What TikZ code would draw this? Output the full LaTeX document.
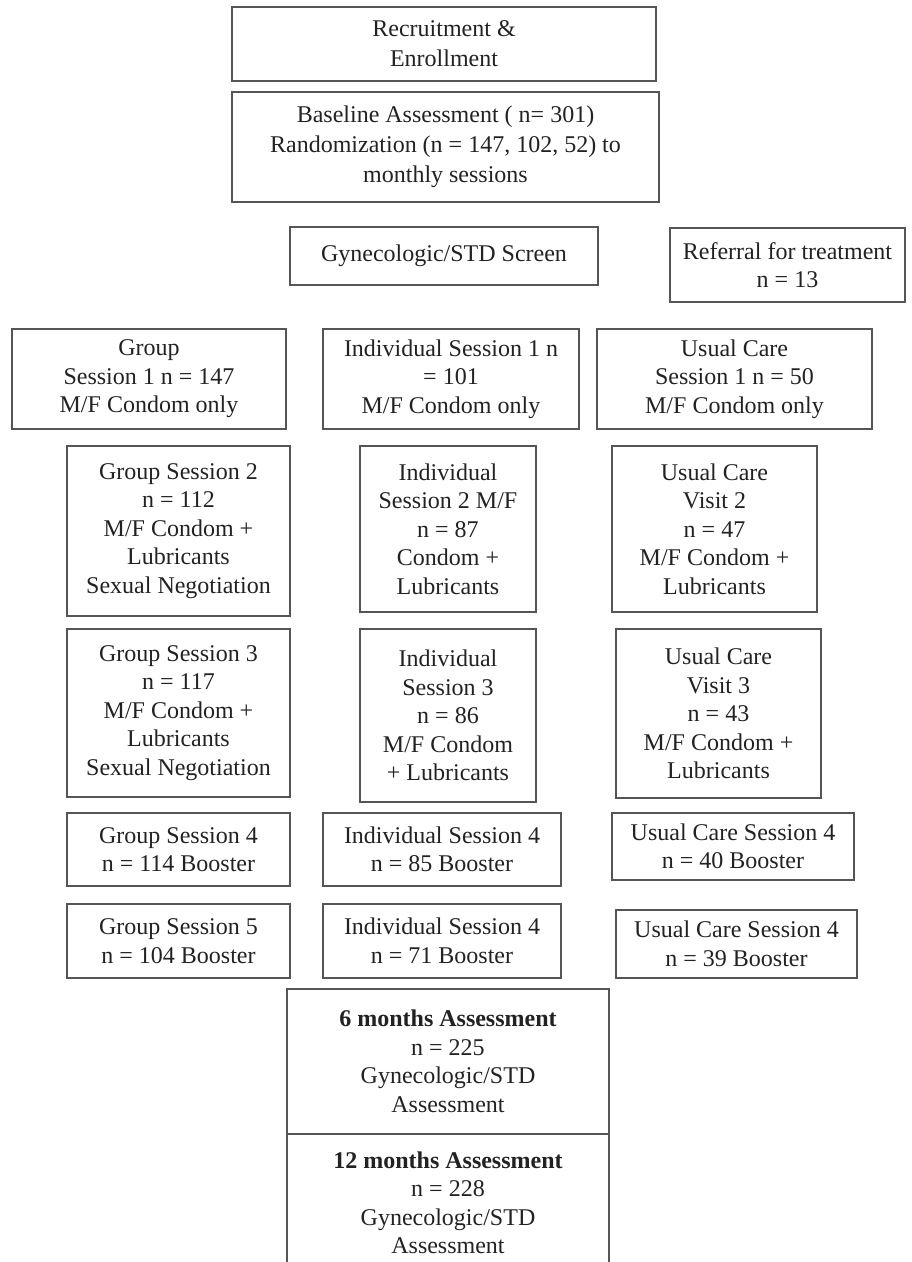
\documentclass[tikz,border=0pt]{standalone}
\usepackage{fontspec}
\setmainfont{Liberation Serif}
\definecolor{edge}{HTML}{555555}
\definecolor{ink}{HTML}{222222}
\begin{document}
\begin{tikzpicture}[x=1pt,y=-1pt,
  box/.style={draw=edge, line width=1.3pt, align=center, text=ink, inner sep=0pt,
    font=\fontsize{24}{28.5}\selectfont},
  wide/.style={font=\fontsize{24}{30}\selectfont},
]
\useasboundingbox (0,0) rectangle (911,1262);
\clip (0,0) rectangle (911,1262);
% top
\node[box, wide, minimum width=424, minimum height=74] (rec) at (444,44) {Recruitment \&\\Enrollment};
\node[box, wide, minimum width=427, minimum height=110] (base) at (445.5,147) {Baseline Assessment ( n= 301)\\Randomization (n = 147, 102, 52) to\\monthly sessions};
\node[box, minimum width=308, minimum height=58] (gyn) at (444,256) {Gynecologic/STD Screen};
\node[box, minimum width=235, minimum height=74] (ref) at (787.5,265) {Referral for treatment\\n = 13};
% session 1
\node[box, minimum width=274, minimum height=100] (g1) at (149,379) {Group\\Session 1 n = 147\\M/F Condom only};
\node[box, minimum width=256, minimum height=100] (i1) at (451,379) {Individual Session 1 n\\= 101\\M/F Condom only};
\node[box, minimum width=275, minimum height=100] (u1) at (734.5,379) {Usual Care\\Session 1 n = 50\\M/F Condom only};
% session 2
\node[box, minimum width=223, minimum height=170] (g2) at (178.5,531) {Group Session 2\\n = 112\\M/F Condom +\\Lubricants\\Sexual Negotiation};
\node[box, minimum width=176, minimum height=166] (i2) at (448,529) {Individual\\Session 2 M/F\\n = 87\\Condom +\\Lubricants};
\node[box, minimum width=205, minimum height=166] (u2) at (714.5,529) {Usual Care\\Visit 2\\n = 47\\M/F Condom +\\Lubricants};
% session 3
\node[box, minimum width=223, minimum height=168] (g3) at (178.5,713) {Group Session 3\\n = 117\\M/F Condom +\\Lubricants\\Sexual Negotiation};
\node[box, minimum width=176, minimum height=173] (i3) at (448,715.5) {Individual\\Session 3\\n = 86\\M/F Condom\\+ Lubricants};
\node[box, minimum width=205, minimum height=169] (u3) at (718.5,713.5) {Usual Care\\Visit 3\\n = 43\\M/F Condom +\\Lubricants};
% session 4
\node[box, minimum width=223, minimum height=73] (g4) at (178.5,849.5) {Group Session 4\\n = 114 Booster};
\node[box, minimum width=238, minimum height=73] (i4) at (442,849.5) {Individual Session 4\\n = 85 Booster};
\node[box, minimum width=242, minimum height=67] (u4) at (733,846.5) {Usual Care Session 4\\n = 40 Booster};
% session 5
\node[box, minimum width=223, minimum height=74] (g5) at (178.5,941) {Group Session 5\\n = 104 Booster};
\node[box, minimum width=238, minimum height=74] (i5) at (442,941) {Individual Session 4\\n = 71 Booster};
\node[box, minimum width=241, minimum height=68] (u5) at (736.5,944) {Usual Care Session 4\\n = 39 Booster};
% follow-up
\node[box, minimum width=322, minimum height=145] (m6) at (448,1061.5) {\textbf{6 months Assessment}\\n = 225\\Gynecologic/STD\\Assessment};
\node[box, minimum width=322, minimum height=136, anchor=north] (m12) at (448,1134) {\textbf{12 months Assessment}\\n = 228\\Gynecologic/STD\\Assessment};
\end{tikzpicture}
\end{document}
